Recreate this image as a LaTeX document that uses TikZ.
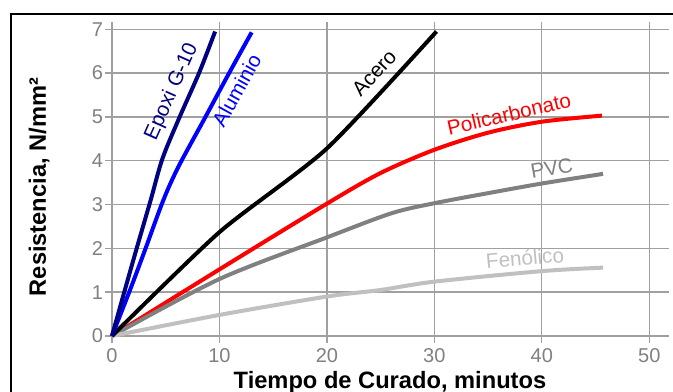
\documentclass[tikz,border=0pt]{standalone}
\usepackage{fontspec}
\setmainfont{Liberation Sans}
\definecolor{epoxi}{RGB}{0,0,128}
\definecolor{aluminio}{RGB}{0,0,255}
\definecolor{policarb}{RGB}{255,0,0}
\definecolor{pvc}{RGB}{128,128,128}
\definecolor{fenolico}{RGB}{192,192,192}
\definecolor{gridgray}{RGB}{160,160,160}
\definecolor{tickgray}{RGB}{128,128,128}
\tikzset{
  gridline/.style={gridgray, line width=1pt},
  ticklabel/.style={text=tickgray, font=\fontsize{15}{15}\selectfont, inner sep=0pt},
  curve/.style={line width=3pt},
  curvelabel/.style={font=\fontsize{15.5}{15.5}\selectfont, inner sep=0pt},
  axistitle/.style={font=\bfseries\fontsize{17.75}{17.75}\selectfont, inner sep=0pt}
}
\begin{document}
\begin{tikzpicture}[x=8.06pt,y=32.86pt]

\useasboundingbox (-10.42,-1.278) rectangle (52.21,7.669);
\clip (-10.42,-1.278) rectangle (52.21,7.669);

\draw[line width=1.3pt] (-9.4,-2) -- (-9.4,7.35) -- (60,7.35);

\foreach \x in {0,10,...,50} {
  \draw[gridline] (\x,-0.16) -- (\x,7.17);
  \node[ticklabel] (xt\x) at (\x,-0.457) {\x};
}
\foreach \y in {0,...,7} {
  \draw[gridline] (-0.65,\y) -- (51.83,\y);
  \node[ticklabel, anchor=east] (yt\y) at (-0.8,\y) {\y};
}

\draw[curve, policarb] plot[smooth, tension=0.5] coordinates {(0,0) (10,1.52) (20,3.02) (25,3.72) (30,4.25) (35,4.64) (40,4.89) (45.6,5.03)};
\draw[curve, pvc] plot[smooth, tension=0.5] coordinates {(0,0) (10,1.3) (20,2.25) (26,2.8) (30,3.03) (35,3.26) (40,3.48) (45.7,3.7)};
\draw[curve, fenolico] plot[smooth, tension=0.5] coordinates {(0,0) (10,0.48) (20,0.9) (25,1.05) (30,1.24) (40,1.48) (45.7,1.56)};
\draw[curve, black] plot[smooth, tension=0.4] coordinates {(0,0) (10,2.37) (20,4.28) (30.2,6.95)};
\draw[curve, aluminio] plot[smooth, tension=0.5] coordinates {(0,0) (1.68,1.05) (3.07,1.96) (4.78,3.1) (6.2,3.87) (8.7,5) (10.9,6) (13,6.93)};
\draw[curve, epoxi] plot[smooth, tension=0.5] coordinates {(0,0) (1.2,1.05) (2.3,2) (3.6,3.1) (4.7,4.05) (6.3,5) (8.1,6) (9.6,6.95)};

\node[curvelabel, epoxi, rotate=66] (lepoxi) at (5.58,5.57) {Epoxi G-10};
\node[curvelabel, aluminio, rotate=61] (lalum) at (11.6,5.6) {Aluminio};
\node[curvelabel, black, rotate=47] (lacero) at (24.4,6.0) {Acero};
\node[curvelabel, policarb, rotate=13] (lpoli) at (36.94,5.07) {Policarbonato};
\node[curvelabel, pvc, rotate=10] (lpvc) at (40.92,3.83) {PVC};
\node[curvelabel, fenolico, rotate=5] (lfeno) at (38.43,1.78) {Fenólico};

\node[axistitle, anchor=base] (xtitle) at (25.87,-1.203) {Tiempo de Curado, minutos};
\node[axistitle, anchor=base, rotate=90] (ytitle) at (-6.14,3.40) {Resistencia, N/mm²};

\end{tikzpicture}
\end{document}
